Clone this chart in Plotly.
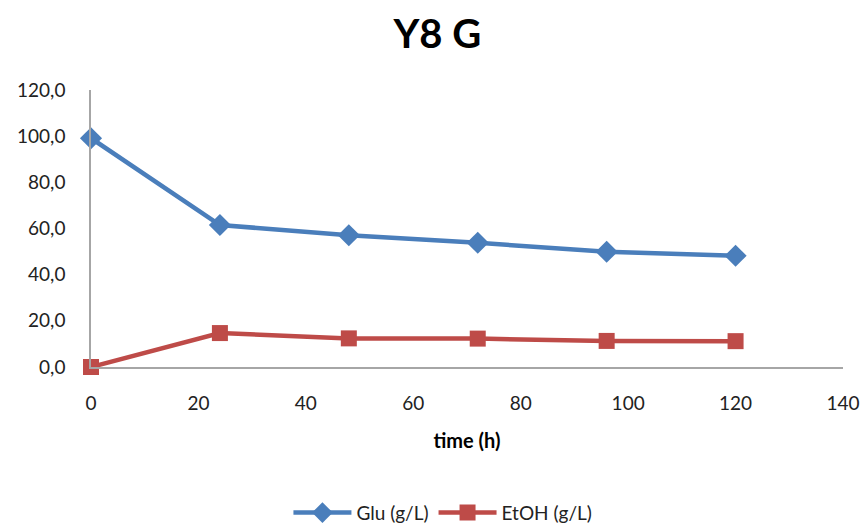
import plotly.graph_objects as go

time_h = [0, 24, 48, 72, 96, 120]
glu = [99.1, 61.5, 57.1, 53.8, 49.9, 48.2]
etoh = [0.0, 14.7, 12.4, 12.3, 11.3, 11.2]

FONT = "Lato, Open Sans, sans-serif"

fig = go.Figure()
fig.add_trace(go.Scatter(x=time_h, y=glu, name="Glu (g/L)", mode="lines+markers",
                         line=dict(color="#4A7EBB", width=4.5),
                         marker=dict(symbol="diamond", size=17, color="#4A7EBB")))
fig.add_trace(go.Scatter(x=time_h, y=etoh, name="EtOH (g/L)", mode="lines+markers",
                         line=dict(color="#BE4B48", width=4.5),
                         marker=dict(symbol="square", size=16, color="#BE4B48")))

fig.update_layout(
    width=866, height=527,
    margin=dict(l=91, r=23, t=90, b=160, autoexpand=False),
    paper_bgcolor="white", plot_bgcolor="white",
    separators=",.",
    font=dict(family=FONT, size=19, color="#222"),
    title=dict(text="<b>Y8 G</b>", x=0.505, xanchor="center", y=0.935, yanchor="middle",
               font=dict(family=FONT, size=40, color="black")),
    showlegend=True,
    legend=dict(orientation="h", x=0.468, xanchor="center", yref="container", y=0.027,
                yanchor="middle", itemwidth=58,
                font=dict(family=FONT, size=19, color="#222")),
    xaxis=dict(range=[0, 140], dtick=20, showgrid=False, zeroline=False,
               showline=True, linecolor="#A6A6A6", linewidth=1.5, ticks="",
               ticklabelstandoff=18,
               title=dict(text="<b>time (h)</b>", font=dict(family=FONT, size=20, color="black"), standoff=21)),
    yaxis=dict(range=[0, 120], dtick=20, tickformat=".1f", showgrid=False, zeroline=False,
               showline=True, linecolor="#A6A6A6", linewidth=1.5, ticks="",
               ticklabelstandoff=20),
)
fig.update_traces(cliponaxis=False)

fig.write_html("out.html")
